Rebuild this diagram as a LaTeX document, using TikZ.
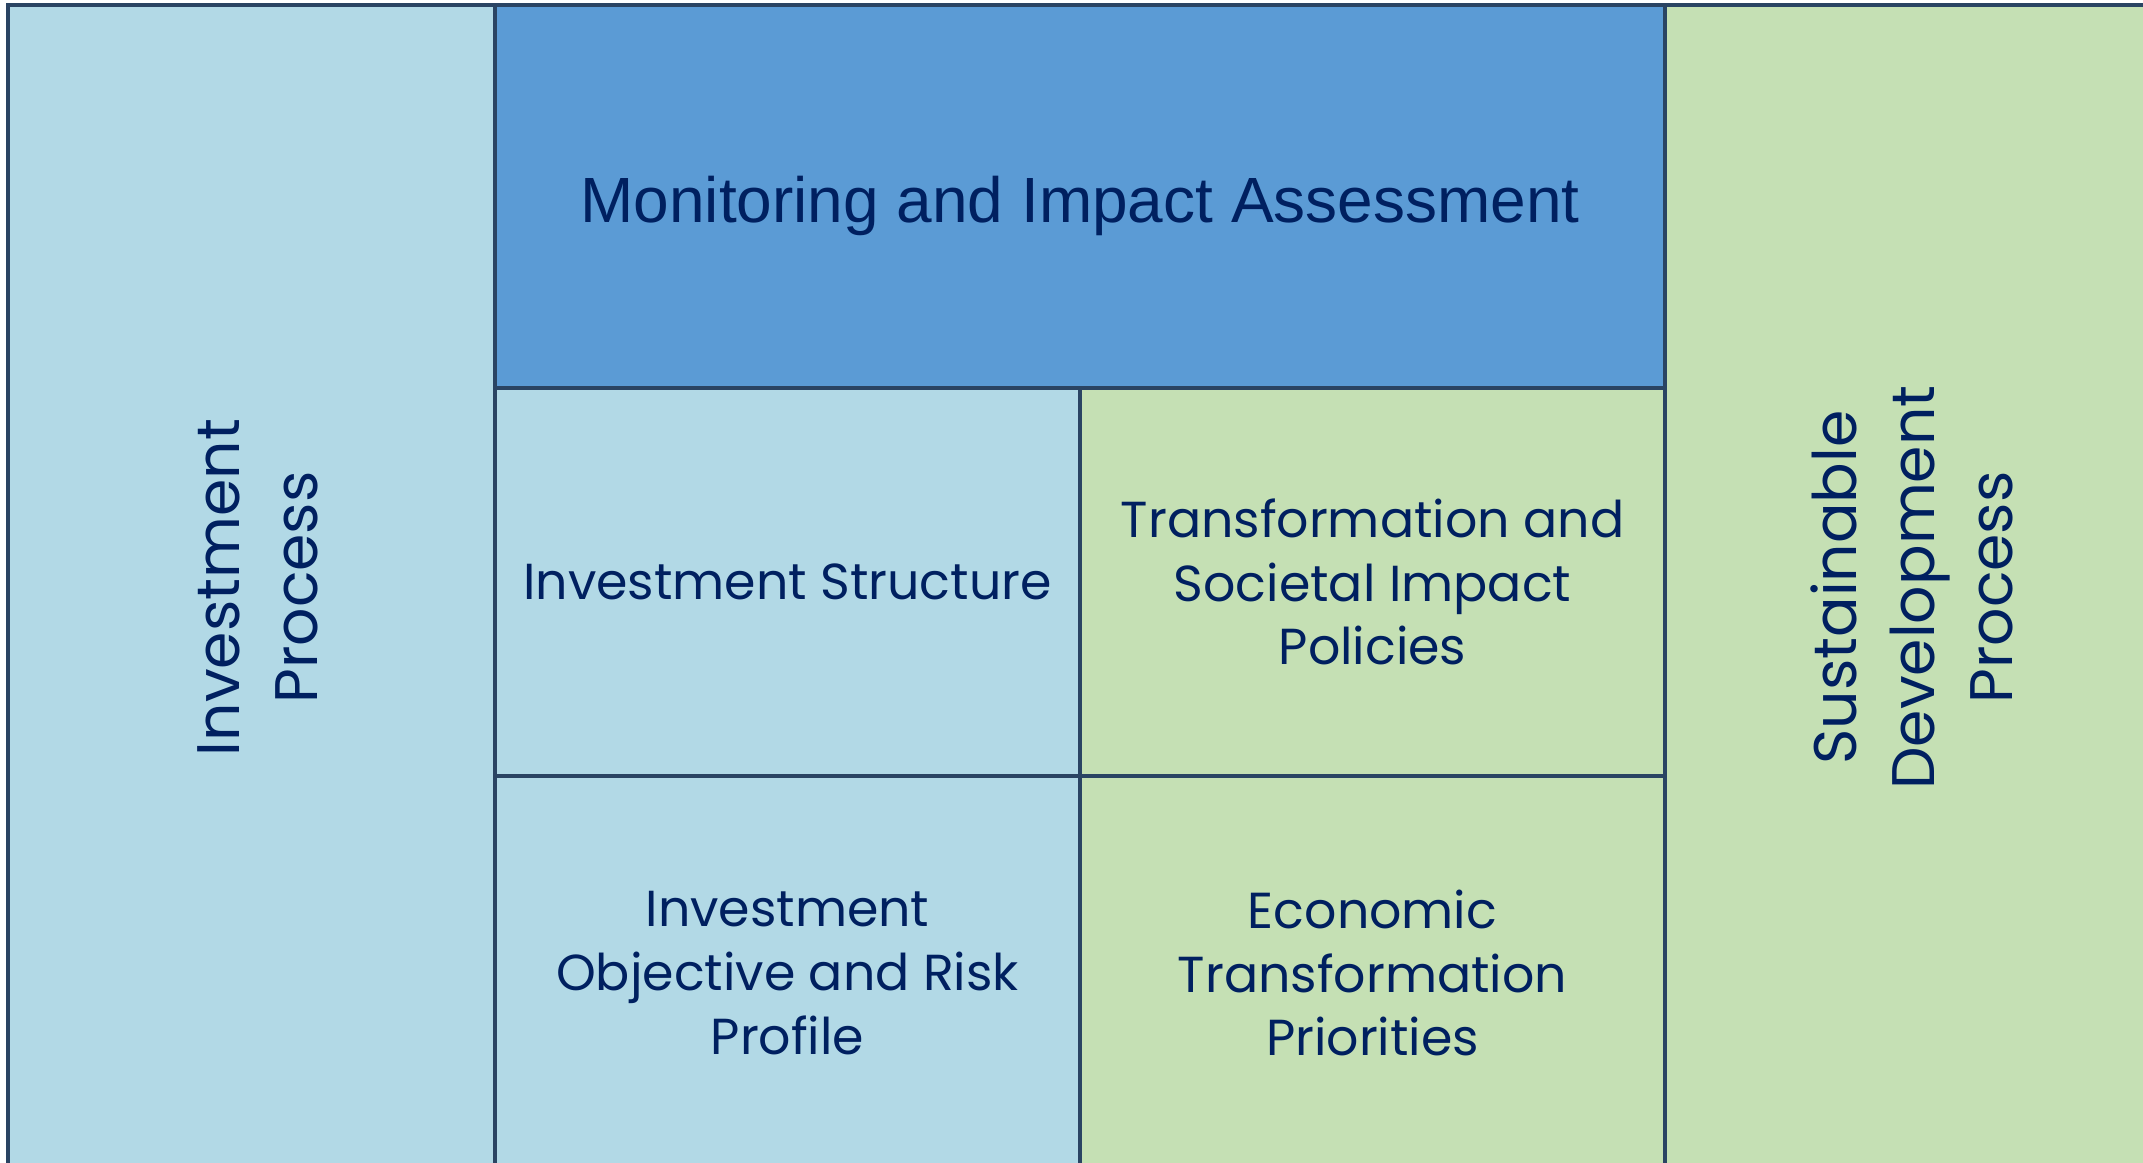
\documentclass[tikz,border=0pt]{standalone}
\usepackage{fontspec}
\setmainfont{Poppins}
\newfontfamily\headfont{Liberation Sans}
\usetikzlibrary{positioning}
\definecolor{paleblue}{HTML}{B2D9E6}
\definecolor{midblue}{HTML}{5B9BD5}
\definecolor{palegreen}{HTML}{C5E0B4}
\definecolor{edgeline}{HTML}{2A4463}
\definecolor{navytext}{HTML}{002060}

\begin{document}
\begin{tikzpicture}[
		% Style definitions for the panel grid
		panel/.style={draw=edgeline, line width=1.1pt, outer sep=0pt, inner sep=0pt, text=navytext, align=center},
		column/.style={panel, minimum width=4.87cm, minimum height=11.65cm, font=\fontsize{17.1}{22.3}\selectfont},
		cell/.style={panel, minimum width=5.85cm, minimum height=3.88cm, font=\fontsize{14.4}{18.1}\selectfont},
		banner/.style={panel, minimum width=11.7cm, minimum height=3.83cm, text height=17pt, text depth=2pt,
			font=\headfont\fontsize{18.2}{22}\selectfont},
		% Panels touch each other
		node distance=0.0cm,
		]
		% === Fixed frame: panels run past the right and bottom edges ===
		\useasboundingbox (0,0) rectangle (21.43,-11.62);
		\clip (0,0) rectangle (21.43,-11.62);

		% === Left column ===
		\node[column, fill=paleblue, anchor=north west] (invest) at (0.08,-0.05) {%
			\rotatebox{90}{\begin{tabular}{@{}c@{}}\rule{0pt}{22pt}Investment\\Process\end{tabular}}};

		% === Top banner ===
		\node[banner, fill=midblue, right=of invest.north east, anchor=north west] (monitor) {%
			Monitoring and Impact Assessment};

		% === Middle row ===
		\node[cell, fill=paleblue, below=of monitor.south west, anchor=north west] (structure) {%
			Investment Structure};
		\node[cell, fill=palegreen, right=of structure] (policies) {%
			Transformation and\\Societal Impact\\Policies};

		% === Bottom row ===
		\node[cell, minimum height=3.94cm, fill=paleblue, below=of structure] (objective) {%
			Investment\\Objective and Risk\\Profile};
		\node[cell, minimum height=3.94cm, fill=palegreen, right=of objective] (priorities) {%
			Economic\\Transformation\\Priorities};

		% === Right column ===
		\node[column, minimum width=4.92cm, fill=palegreen, right=of monitor.north east, anchor=north west] (sustain) {%
			\rotatebox{90}{\begin{tabular}{@{}c@{}}\rule{0pt}{20pt}Sustainable\\Development\\Process\end{tabular}}};

	\end{tikzpicture}
\end{document}
